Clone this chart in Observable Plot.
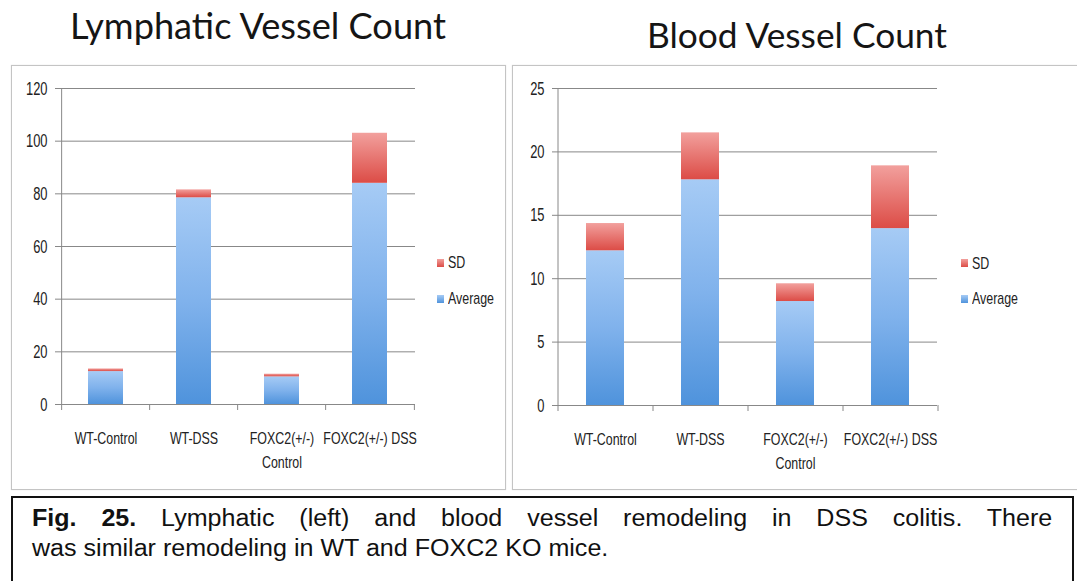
<!DOCTYPE html>
<html>
<head>
<meta charset="utf-8">
<script src="https://cdn.jsdelivr.net/npm/d3@7"></script>
<script src="https://cdn.jsdelivr.net/npm/@observablehq/plot@0.6"></script>
<style>
  html, body { margin: 0; padding: 0; background: #fff; }
  body { width: 1077px; height: 581px; position: relative; overflow: hidden;
         font-family: "Liberation Sans", Arial, sans-serif; }
  .panel { position: absolute; top: 65px; height: 425px; box-sizing: border-box;
           border: 1px solid #c4c4c4; box-shadow: 0 0 1px #ddd; }
  .plot { position: absolute; top: 65px; }
  .plot svg { overflow: visible; display: block; }
  .title { position: absolute; top: 0; left: 0; }
  .leg { position: absolute; font-size: 17px; color: #222; line-height: 17px; white-space: nowrap;
         transform: scaleX(0.73); transform-origin: 0 50%; }
  .sw { position: absolute; width: 7px; height: 8px; }
  #caption { position: absolute; left: 11px; top: 496px; width: 1063px; height: 95px;
             box-sizing: border-box; border: 2px solid #111; }
  .capwrap { position: absolute; left: 32px; top: 503px; width: 936px;
             transform: scaleX(1.09); transform-origin: 0 0; }
  .cap { font-family: "Liberation Sans", Arial, sans-serif; font-size: 23px; line-height: 30px;
         color: #111; white-space: nowrap; }
  #cap1 { text-align: justify; text-align-last: justify; white-space: normal; }
</style>
</head>
<body>
<svg width="0" height="0" style="position:absolute">
  <defs>
    <linearGradient id="gAvg" x1="0" y1="0" x2="0" y2="1">
      <stop offset="0" stop-color="#a6cbf5"/>
      <stop offset="0.5" stop-color="#80b2ec"/>
      <stop offset="1" stop-color="#4f93dc"/>
    </linearGradient>
    <linearGradient id="gSD" x1="0" y1="0" x2="0" y2="1">
      <stop offset="0" stop-color="#f2a09d"/>
      <stop offset="1" stop-color="#dc4c46"/>
    </linearGradient>
  </defs>
</svg>

<svg class="title" width="1077" height="60">
  <text x="70" y="39" textLength="376" lengthAdjust="spacingAndGlyphs"
        font-family="Lato, 'Open Sans', sans-serif" font-weight="400" font-size="37" fill="#151515">Lymphatic Vessel Count</text>
  <text x="647" y="48" textLength="300" lengthAdjust="spacingAndGlyphs"
        font-family="Lato, 'Open Sans', sans-serif" font-weight="400" font-size="35" fill="#151515">Blood Vessel Count</text>
</svg>

<div class="panel" style="left:11px; width:495px;"></div>
<div class="panel" style="left:512px; width:566px;"></div>
<div class="plot" id="left" style="left:11px;"></div>
<div class="plot" id="right" style="left:512px;"></div>

<div class="sw" style="left:437px; top:259px; background:linear-gradient(#f2a09d,#dc4c46);"></div>
<div class="leg" style="left:448px; top:254px;">SD</div>
<div class="sw" style="left:437px; top:295px; background:linear-gradient(#a6cbf5,#4f93dc);"></div>
<div class="leg" style="left:448px; top:290px;">Average</div>

<div class="sw" style="left:961px; top:259px; background:linear-gradient(#f2a09d,#dc4c46);"></div>
<div class="leg" style="left:972px; top:255px;">SD</div>
<div class="sw" style="left:961px; top:295px; background:linear-gradient(#a6cbf5,#4f93dc);"></div>
<div class="leg" style="left:972px; top:290px;">Average</div>

<div id="caption"></div>
<div class="capwrap">
  <div class="cap" id="cap1"><b>Fig. 25.</b> Lymphatic (left) and blood vessel remodeling in DSS colitis. There</div>
  <div class="cap" id="cap2">was similar remodeling in WT and FOXC2 KO mice.</div>
</div>

<script>
// ---- data ----
const categories = ["WT-Control", "WT-DSS", "FOXC2(+/-) Control", "FOXC2(+/-) DSS"];
const categoryLabels = ["WT-Control", "WT-DSS", "FOXC2(+/-)\nControl", "FOXC2(+/-) DSS"];
const lymphAverage = [12.5, 78.5, 10.5, 84];
const lymphSD = [1, 3, 1, 19];
const bloodAverage = [12.2, 17.8, 8.2, 13.95];
const bloodSD = [2.15, 3.7, 1.4, 4.95];
const lymphTicks = [0, 20, 40, 60, 80, 100, 120];
const bloodTicks = [0, 5, 10, 15, 20, 25];
const seriesNames = ["Average", "SD"];

function condense(svg, selector, k) {
  svg.querySelectorAll(selector).forEach(el => {
    let t = el.getAttribute("transform");
    if (!t) {
      const x = +el.getAttribute("x") || 0, y = +el.getAttribute("y") || 0;
      el.removeAttribute("x"); el.removeAttribute("y");
      t = `translate(${x},${y})`;
    }
    el.setAttribute("transform", `${t} scale(${k},1)`);
  });
  return svg;
}

function chart(avg, sd, ticks, opts) {
  const rows = categories.map((c, i) => ({cat: c, avg: avg[i], top: avg[i] + sd[i]}));
  const n = categories.length, pi = 0.6, po = 0.3;
  const step = (opts.width - opts.marginLeft - opts.marginRight) / (n - pi + 2 * po);
  const labelOf = c => categoryLabels[categories.indexOf(c)];
  const grid = "#888888";
  const svg = Plot.plot({
    width: opts.width, height: opts.height,
    marginLeft: opts.marginLeft, marginRight: opts.marginRight,
    marginTop: opts.marginTop, marginBottom: opts.marginBottom,
    x: {domain: categories, paddingInner: pi, paddingOuter: po, label: null},
    y: {domain: [ticks[0], ticks[ticks.length - 1]], label: null},
    style: {fontFamily: '"Liberation Sans", Arial, sans-serif',
            fontSize: "17px", color: "#222", background: "transparent"},
    marks: [
      Plot.gridY(ticks, {stroke: grid, strokeOpacity: 1}),
      Plot.ruleX([categories[0]], {y1: ticks[0], y2: ticks[ticks.length - 1], dx: -step / 2, stroke: grid}),
      Plot.ruleX(categories, {y1: 0, y2: 0, insetBottom: -6, dx: -step / 2, stroke: grid}),
      Plot.ruleX([categories[n - 1]], {y1: 0, y2: 0, insetBottom: -6, dx: step / 2, stroke: grid}),
      Plot.barY(rows, {x: "cat", y1: 0, y2: "avg", fill: "url(#gAvg)", title: () => seriesNames[0]}),
      Plot.barY(rows, {x: "cat", y1: "avg", y2: "top", fill: "url(#gSD)", title: () => seriesNames[1]}),
      Plot.ruleY([0], {stroke: grid}),
      Plot.axisY({ticks, tickSize: 5, tickPadding: 8, stroke: grid, label: null, fill: "#222", fontSize: 19}),
      Plot.axisX({tickSize: 0, tickPadding: 23, tickFormat: labelOf, lineHeight: 1.38, label: null, fill: "#222"})
    ]
  });
  condense(svg, 'g[aria-label="y-axis tick label"] text', 0.68);
  condense(svg, 'g[aria-label="x-axis tick label"] text', 0.73);
  return svg;
}

document.getElementById("left").append(chart(lymphAverage, lymphSD, lymphTicks,
  {width: 495, height: 425, marginLeft: 49, marginRight: 91, marginTop: 23, marginBottom: 86}));
document.getElementById("right").append(chart(bloodAverage, bloodSD, bloodTicks,
  {width: 565, height: 425, marginLeft: 45, marginRight: 140, marginTop: 23, marginBottom: 85}));
</script>
</body>
</html>
